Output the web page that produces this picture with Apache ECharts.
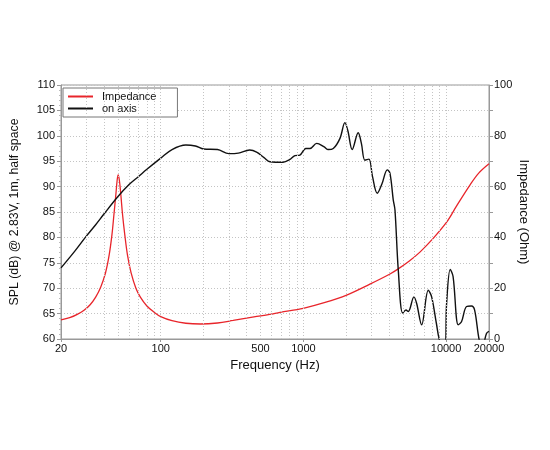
<!DOCTYPE html>
<html><head><meta charset="utf-8">
<script src="https://cdn.jsdelivr.net/npm/echarts@6/dist/echarts.min.js"></script>
<style>html,body{margin:0;padding:0;background:#fff}#c{width:550px;height:450px}</style>
</head><body><div id="c"></div>
<script>
// SPL on axis (Hz, dB)
const splFreq = [20,25,30,35,40,50,60,70,80,100,120,150,175,200,250,300,350,420,470,530,583,720,800,873,945,1040,1111,1240,1400,1494,1620,1805,1955,2050,2199,2422,2550,2698,2878,3050,3295,3550,3873,4046,4264,4385,4625,4966,5238,5432,5957,6223,6746,7505,7925,8552,9060,9800,10090,10700,11200,12170,12830,13930,15070,15860,17080,18000,19200,20000];
const splDb   = [74.0,77.3,80.2,82.5,84.6,88.0,90.4,92.0,93.4,95.6,97.3,98.2,98.0,97.4,97.3,96.5,96.6,97.2,96.8,95.7,94.9,94.8,95.3,96.1,96.2,97.5,97.5,98.5,97.8,97.3,97.5,99.5,102.6,101.0,97.3,100.6,98.5,95.2,95.4,92.0,88.7,90.5,93.3,92.6,87.4,85.4,73.6,65.1,65.7,65.4,68.3,67.0,62.8,69.6,68.3,63.1,59.5,58.5,67.0,73.7,72.3,62.8,63.4,66.4,66.5,65.7,59.8,58.5,61.1,61.5];
// Impedance (Hz, Ohm)
const impFreq = [20,23,26,29,32,35,38,41,43.5,45.5,47,48.5,49.5,50.3,51.3,52.5,54,56,58.5,62,67,72,80,90,100,120,150,190,250,322,450,580,686,998,1400,2010,2925,4046,4622,5500,6560,8000,10090,11860,14700,17000,20000];
const impOhm  = [7.5,8.4,9.7,11.3,13.5,16.5,20.5,26,33,41,49,57,62.5,64.6,62.5,57,49,41,33,26,20,16.5,13,10.5,8.8,7.2,6.2,5.9,6.3,7.3,8.7,9.7,10.5,12.1,14.3,17.3,21.6,25.6,27.6,30.6,34.2,39.2,46.0,52.4,60.6,65.4,69.0];
// Axis / grid reference values
const gridFreqs = [30,40,50,60,70,80,90,100,200,300,400,500,600,700,800,900,1000,2000,3000,4000,5000,6000,7000,8000,9000,10000];
const extraFreqLabels = [500];

const chart = echarts.init(document.getElementById('c'));
const font = 'Liberation Sans, Arial, Helvetica, sans-serif';
const zip = (a,b) => a.map((v,i)=>[v,b[i]]);

chart.setOption({
  animation:false,
  textStyle:{fontFamily:font},
  grid:{left:61,right:61,top:85,bottom:111,show:true,borderColor:'#999',borderWidth:1,backgroundColor:'transparent'},
  legend:{
    left:63, top:88, orient:'vertical', itemGap:1,
    itemWidth:25, itemHeight:2, icon:'rect',
    backgroundColor:'#fff', borderColor:'#777', borderWidth:1, borderRadius:0,
    padding:[3,21,3,5],
    textStyle:{fontSize:11, color:'#111', fontFamily:font, padding:[0,0,0,4]},
    data:[{name:'Impedance'},{name:'on axis'}]
  },
  xAxis:{
    type:'log', logBase:10, min:20, max:20000,
    name:'Frequency (Hz)', nameLocation:'middle', nameGap:20, nameMoveOverlap:false,
    nameTextStyle:{fontSize:13,color:'#111',fontFamily:font},
    axisLine:{lineStyle:{color:'#999'}},
    axisTick:{show:true,length:3,lineStyle:{color:'#999'}},
    axisLabel:{fontSize:11,color:'#111',margin:4,showMinLabel:true,showMaxLabel:true,formatter:v=>String(Math.round(v))},
    splitLine:{show:false}
  },
  yAxis:[{
    type:'value', min:60, max:110, interval:5, position:'left',
    name:'SPL (dB) @ 2.83V, 1m, half space', nameLocation:'middle', nameGap:40, nameRotate:90, nameMoveOverlap:false,
    nameTextStyle:{fontSize:12.3,color:'#111',fontFamily:font},
    axisLine:{show:true,lineStyle:{color:'#999'}},
    axisTick:{show:true,length:4,lineStyle:{color:'#999'}},
    minorTick:{show:true,splitNumber:5,length:2,lineStyle:{color:'#bbb'}},
    axisLabel:{fontSize:11,color:'#111',margin:6},
    splitLine:{show:true,lineStyle:{color:'#c4c4c4',type:[1,2],width:1}}
  },{
    type:'value', min:0, max:100, interval:20, position:'right',
    name:'Impedance (Ohm)', nameLocation:'middle', nameGap:28, nameRotate:-90, nameMoveOverlap:false,
    nameTextStyle:{fontSize:13,color:'#111',fontFamily:font},
    axisLine:{show:true,lineStyle:{color:'#999'}},
    axisTick:{show:true,length:4,lineStyle:{color:'#999'}},
    minorTick:{show:true,splitNumber:2,length:4,lineStyle:{color:'#999'}},
    axisLabel:{fontSize:11,color:'#111',margin:5},
    splitLine:{show:false}
  }],
  series:[{
    name:'Impedance', type:'line', yAxisIndex:1, data:zip(impFreq,impOhm),
    smooth:0.35, showSymbol:false, symbol:'none',
    lineStyle:{color:'#e8252b',width:1.3}, itemStyle:{color:'#e8252b'}, z:3,
    markLine:{
      silent:true, symbol:'none', animation:false,
      lineStyle:{color:'#c4c4c4',type:[1,2],width:1},
      label:{show:false},
      data: gridFreqs.map(f=>({xAxis:f,
        label: extraFreqLabels.includes(f) ? {show:true,position:'start',distance:4,formatter:String(f),fontSize:11,color:'#111',fontFamily:font} : {show:false}}))
    }
  },{
    name:'on axis', type:'line', yAxisIndex:0, data:zip(splFreq,splDb),
    smooth:0.35, showSymbol:false, symbol:'none', clip:true,
    lineStyle:{color:'#111',width:1.4}, itemStyle:{color:'#111'}, z:4
  }]
});
</script></body></html>
